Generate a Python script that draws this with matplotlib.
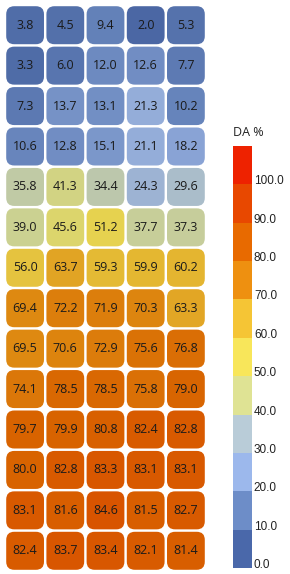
import numpy as np
import matplotlib
matplotlib.use("Agg")
import matplotlib.pyplot as plt
from matplotlib.patches import FancyBboxPatch
from matplotlib.colors import LinearSegmentedColormap, to_rgb

# values, one list per row (top to bottom)
rows = [
    [3.8, 4.5, 9.4, 2.0, 5.3],
    [3.3, 6.0, 12.0, 12.6, 7.7],
    [7.3, 13.7, 13.1, 21.3, 10.2],
    [10.6, 12.8, 15.1, 21.1, 18.2],
    [35.8, 41.3, 34.4, 24.3, 29.6],
    [39.0, 45.6, 51.2, 37.7, 37.3],
    [56.0, 63.7, 59.3, 59.9, 60.2],
    [69.4, 72.2, 71.9, 70.3, 63.3],
    [69.5, 70.6, 72.9, 75.6, 76.8],
    [74.1, 78.5, 78.5, 75.8, 79.0],
    [79.7, 79.9, 80.8, 82.4, 82.8],
    [80.0, 82.8, 83.3, 83.1, 83.1],
    [83.1, 81.6, 84.6, 81.5, 82.7],
    [82.4, 83.7, 83.4, 82.1, 81.4],
]

# colour bins of the legend (0-10, 10-20, ..., 100-110)
bin_edges = list(range(0, 120, 10))
bin_colors = ["#4a68aa", "#6d8dc8", "#9cb8ec", "#b9ccd8", "#dfe394", "#f8e65a",
              "#f5c535", "#ee9010", "#e86a00", "#e84800", "#ee2200"]
tick_values = list(range(0, 110, 10))
legend_title = "DA %"

data = np.array(rows)
n_rows, n_cols = data.shape

# continuous map for the cells, a bit darker than the legend
dark = [tuple(c * 0.93 for c in to_rgb(h)) for h in bin_colors]
cell_cmap = LinearSegmentedColormap.from_list(
    "da", list(zip(np.array(bin_edges[:-1]) / 100.0, dark)))

W, H = 290, 574
fig = plt.figure(figsize=(W / 100, H / 100), dpi=100)

# heatmap
ax = fig.add_axes([5 / W, 1 - 571 / H, 201 / W, 566 / H])
ax.set_xlim(0, n_cols)
ax.set_ylim(n_rows, 0)
ax.axis("off")

gap = 0.03
for i in range(n_rows):
    for j in range(n_cols):
        v = data[i, j]
        box = FancyBboxPatch((j + gap, i + gap), 1 - 2 * gap, 1 - 2 * gap,
                             boxstyle="round,pad=0,rounding_size=0.2",
                             facecolor=cell_cmap(min(v, 100) / 100.0),
                             edgecolor="none")
        ax.add_patch(box)
        ax.text(j + 0.5, i + 0.5, f"{v:.1f}", ha="center", va="center",
                fontsize=9, family="Open Sans", color="#1a1a1a")

# legend bar
cax = fig.add_axes([233 / W, 1 - 568 / H, 19 / W, 422 / H])
cax.set_xlim(0, 1)
cax.set_ylim(0, 110)
cax.axis("off")
cax.bar([0.5] * len(bin_colors), np.diff(bin_edges), bottom=bin_edges[:-1],
        width=1, color=bin_colors, edgecolor="none")
for t in tick_values:
    cax.text(1.1, t, f"{t:.1f}", ha="left", va="baseline",
             fontsize=8.5, family="Liberation Sans", color="#222222")

fig.text(233 / W, 1 - 133 / H, legend_title, ha="left", va="center",
         fontsize=9, family="Open Sans", color="#222222")

fig.savefig("out.png", dpi=100)
